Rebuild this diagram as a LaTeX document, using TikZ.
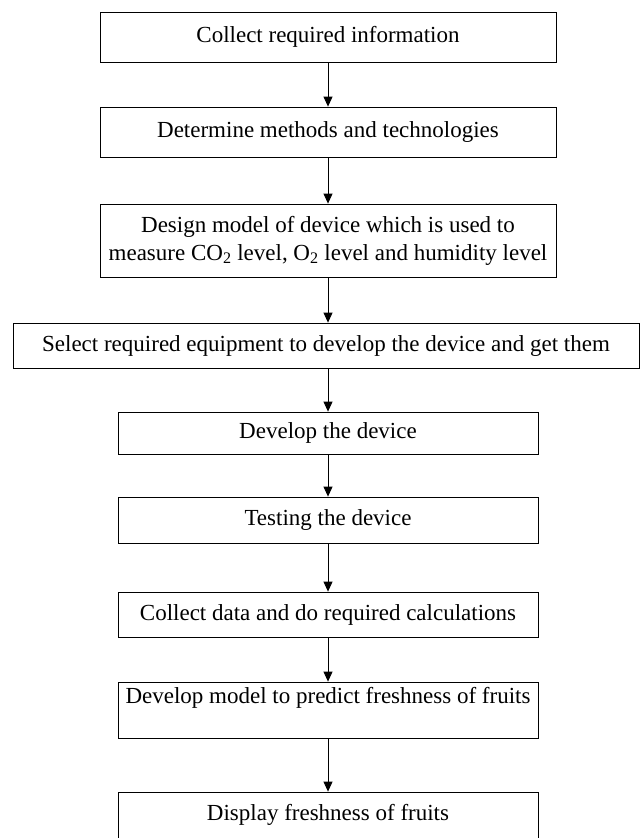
\documentclass[tikz,border=0pt]{standalone}
\usepackage{fontspec}
\setmainfont{Liberation Serif}
\usetikzlibrary{arrows.meta}

\begin{document}
\begin{tikzpicture}[x=1pt,y=-1pt,
    stepbox/.style={draw,line width=.8pt,inner sep=0pt,align=center,
      font=\fontsize{23}{28}\selectfont},
    flow/.style={-{Triangle[length=10pt,width=9pt]},line width=.8pt}]
      \useasboundingbox (0,0) rectangle (640,838);
      \node[stepbox,minimum width=456,minimum height=50] (collect) at (328,37) {Collect required information};
      \node[stepbox,minimum width=456,minimum height=50] (methods) at (328,132) {Determine methods and technologies};
      \node[stepbox,minimum width=456,minimum height=73] (design) at (328,240.5)
        {Design model of device which is used to\\measure CO\textsubscript{2} level, O\textsubscript{2} level and humidity level};
      \node[stepbox,minimum width=626,minimum height=45] (select) at (326,345.5)
        {Select required equipment to develop the device and get them};
      \node[stepbox,minimum width=420,minimum height=42] (develop) at (328,433) {Develop the device};
      \node[stepbox,minimum width=420,minimum height=46] (testing) at (328,520) {Testing the device};
      \node[stepbox,minimum width=420,minimum height=45] (data) at (328,614.5) {Collect data and do required calculations};
      \node[stepbox,minimum width=420,minimum height=56,text height=16pt,text depth=29pt] (model) at (328,710)
        {Develop model to predict freshness of fruits};
      \node[stepbox,minimum width=420,minimum height=46] (display) at (328,815) {Display freshness of fruits};
      %% arrows between the steps
      \draw[flow] (collect) -- (methods);
      \draw[flow] (methods) -- (design);
      \draw[flow] (design.south) -- (design.south |- select.north);
      \draw[flow] (develop.north |- select.south) -- (develop.north);
      \draw[flow] (develop) -- (testing);
      \draw[flow] (testing) -- (data);
      \draw[flow] (data) -- (model);
      \draw[flow] (model) -- (display);
    \end{tikzpicture}
\end{document}
